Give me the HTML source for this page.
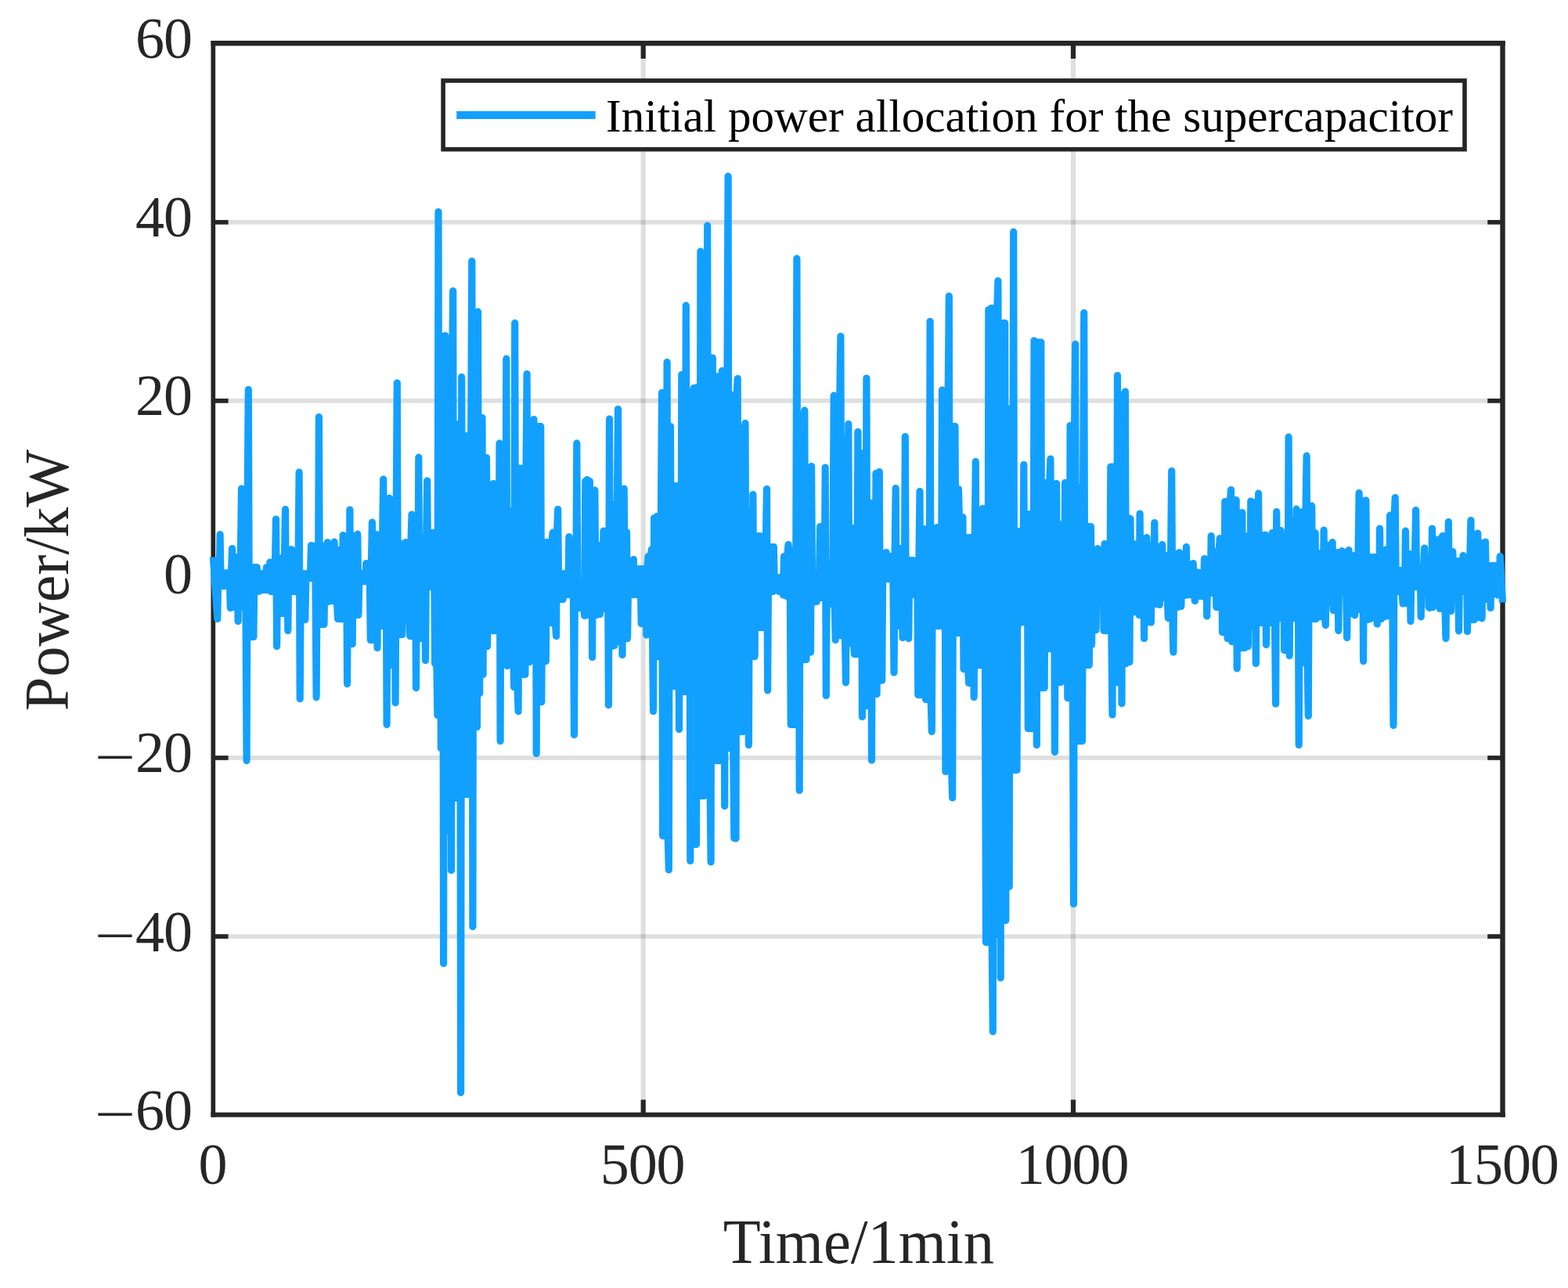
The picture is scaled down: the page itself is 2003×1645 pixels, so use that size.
<!DOCTYPE html>
<html lang="en"><head><meta charset="utf-8"><title>Initial power allocation for the supercapacitor</title>
<style>html,body{margin:0;padding:0;background:#fff;}body{width:2003px;height:1645px;overflow:hidden;}svg{display:block;}text{font-family:"Liberation Serif","DejaVu Serif",serif;}</style></head><body>
<svg width="2003" height="1645" viewBox="0 0 2003 1645">
<rect x="0" y="0" width="2003" height="1645" fill="#ffffff"/>
<g stroke="#262626" stroke-opacity="0.15" fill="none">
<line x1="821.7" y1="55.6" x2="821.7" y2="1423.8" stroke-width="6.2"/>
<line x1="1371.0" y1="55.6" x2="1371.0" y2="1423.8" stroke-width="6.2"/>
<line x1="272.3" y1="283.8" x2="1919.5" y2="283.8" stroke-width="5.7"/>
<line x1="272.3" y1="511.9" x2="1919.5" y2="511.9" stroke-width="5.7"/>
<line x1="272.3" y1="739.9" x2="1919.5" y2="739.9" stroke-width="5.7"/>
<line x1="272.3" y1="967.9" x2="1919.5" y2="967.9" stroke-width="5.7"/>
<line x1="272.3" y1="1196.0" x2="1919.5" y2="1196.0" stroke-width="5.7"/>
</g>
<g stroke="#262626" fill="none">
<line x1="821.7" y1="1423.8" x2="821.7" y2="1404.5" stroke-width="6.2"/>
<line x1="821.7" y1="55.6" x2="821.7" y2="74.9" stroke-width="6.2"/>
<line x1="1371.0" y1="1423.8" x2="1371.0" y2="1404.5" stroke-width="6.2"/>
<line x1="1371.0" y1="55.6" x2="1371.0" y2="74.9" stroke-width="6.2"/>
<line x1="272.3" y1="283.8" x2="291.6" y2="283.8" stroke-width="5.7"/>
<line x1="1919.5" y1="283.8" x2="1900.2" y2="283.8" stroke-width="5.7"/>
<line x1="272.3" y1="511.9" x2="291.6" y2="511.9" stroke-width="5.7"/>
<line x1="1919.5" y1="511.9" x2="1900.2" y2="511.9" stroke-width="5.7"/>
<line x1="272.3" y1="739.9" x2="291.6" y2="739.9" stroke-width="5.7"/>
<line x1="1919.5" y1="739.9" x2="1900.2" y2="739.9" stroke-width="5.7"/>
<line x1="272.3" y1="967.9" x2="291.6" y2="967.9" stroke-width="5.7"/>
<line x1="1919.5" y1="967.9" x2="1900.2" y2="967.9" stroke-width="5.7"/>
<line x1="272.3" y1="1196.0" x2="291.6" y2="1196.0" stroke-width="5.7"/>
<line x1="1919.5" y1="1196.0" x2="1900.2" y2="1196.0" stroke-width="5.7"/>
<line x1="272.3" y1="52.300000000000004" x2="272.3" y2="1426.8" stroke-width="5.7"/>
<line x1="1919.5" y1="52.300000000000004" x2="1919.5" y2="1426.8" stroke-width="6.4"/>
<line x1="269.45" y1="55.35" x2="1922.7" y2="55.35" stroke-width="6.5"/>
<line x1="269.45" y1="1423.87" x2="1922.7" y2="1423.87" stroke-width="6.0"/>
</g>
<polyline points="272.3,711.5 273.4,727.0 274.5,743.0 275.6,759.0 276.7,775.0 277.8,790.4 278.9,718.6 280.0,748.4 281.1,682.6 282.2,748.4 283.3,732.6 284.4,748.4 285.5,732.6 286.6,748.4 287.7,732.6 288.8,731.6 289.9,748.4 291.0,734.6 292.1,748.4 293.2,734.6 294.3,776.4 295.4,734.6 296.5,700.6 297.6,775.4 298.7,775.4 299.8,711.6 300.9,775.4 301.9,711.6 303.1,711.6 304.1,793.4 305.2,711.6 306.3,775.4 307.4,711.6 308.5,624.0 309.6,775.4 310.7,635.6 311.8,775.4 312.9,635.6 314.0,775.4 315.1,971.4 316.2,635.6 317.3,497.6 318.4,813.4 319.5,724.6 320.6,813.4 321.7,724.6 322.8,724.6 323.9,813.4 325.0,724.6 326.1,755.4 327.2,724.6 328.3,724.6 329.4,755.4 330.5,755.4 331.6,732.6 332.7,753.4 333.8,732.6 334.9,732.6 336.0,753.4 337.1,753.4 338.2,732.6 339.3,753.4 340.4,724.6 341.5,753.4 342.6,724.6 343.7,753.4 344.8,718.2 345.9,755.4 347.0,722.6 348.1,755.4 349.2,722.6 350.3,755.4 351.4,722.6 352.5,663.0 353.6,825.4 354.7,712.6 355.8,783.4 356.9,712.6 357.9,783.4 359.1,712.6 360.1,783.4 361.2,712.6 362.4,783.4 363.4,712.6 364.5,650.6 365.6,783.4 366.7,702.6 367.8,805.4 368.9,702.6 370.0,755.4 371.1,702.6 372.2,701.6 373.3,755.4 374.4,718.6 375.5,755.4 376.6,718.6 377.7,755.4 378.8,718.6 379.9,755.4 381.0,718.6 382.1,603.2 383.2,892.4 384.3,732.6 385.4,791.4 386.5,791.4 387.6,732.6 388.7,791.4 389.8,791.4 390.9,732.6 392.0,738.4 393.1,732.6 394.2,738.4 395.3,732.6 396.4,738.4 397.5,696.6 398.6,738.4 399.7,697.6 400.8,738.4 401.9,697.6 403.0,738.4 404.1,890.4 405.2,697.6 406.3,797.4 407.4,532.6 408.5,797.4 409.6,797.4 410.7,697.6 411.8,797.4 412.9,697.6 414.0,797.4 415.1,697.6 416.2,768.4 417.2,697.6 418.4,692.6 419.4,768.4 420.6,702.6 421.6,767.4 422.7,702.6 423.8,767.4 424.9,702.6 426.0,767.4 427.1,692.2 428.2,767.4 429.3,702.6 430.4,767.4 431.5,790.4 432.6,702.6 433.7,790.4 434.8,702.6 435.9,790.4 437.0,790.4 438.1,683.6 439.2,790.4 440.3,684.6 441.4,790.4 442.5,684.6 443.6,873.4 444.7,684.6 445.8,822.4 446.9,651.0 448.0,822.4 449.1,684.6 450.2,822.4 451.3,684.6 452.4,684.6 453.5,785.4 454.6,684.6 455.7,785.4 456.8,682.2 457.9,785.4 459.0,732.6 460.1,742.4 461.2,732.6 462.3,732.6 463.4,742.4 464.5,742.4 465.6,732.6 466.7,742.4 467.8,719.6 468.9,742.4 470.0,722.6 471.1,742.4 472.2,722.6 473.3,817.4 474.4,722.6 475.4,667.0 476.6,817.4 477.6,817.4 478.8,682.6 479.9,817.4 480.9,682.6 482.0,827.4 483.1,684.6 484.2,799.4 485.3,684.6 486.4,799.4 487.5,799.4 488.6,684.6 489.7,612.0 490.8,799.4 491.9,638.6 493.0,638.6 494.1,925.4 495.2,638.6 496.3,849.4 497.4,636.2 498.5,849.4 499.6,849.4 500.7,656.6 501.8,656.6 502.9,849.4 504.0,656.6 505.1,897.4 506.2,656.6 507.3,489.0 508.4,810.4 509.5,810.4 510.6,694.6 511.7,810.4 512.8,694.6 513.9,810.4 515.0,694.6 516.1,769.4 517.2,694.6 518.3,692.6 519.4,769.4 520.5,694.6 521.6,694.6 522.7,769.4 523.8,812.4 524.9,694.6 526.0,657.0 527.1,812.4 528.2,812.4 529.3,664.6 530.4,664.6 531.5,878.4 532.6,664.6 533.7,815.4 534.8,584.2 535.9,815.4 537.0,686.6 538.0,815.4 539.1,686.6 540.2,686.6 541.3,815.4 542.4,686.6 543.5,843.4 544.6,686.6 545.7,614.0 546.8,749.4 547.9,680.6 549.0,749.4 550.1,680.6 551.2,749.4 552.3,680.6 553.4,749.4 554.5,680.6 555.6,847.4 556.7,680.6 557.8,847.4 558.9,913.4 560.0,270.6 561.1,913.4 562.2,429.6 563.3,955.4 564.4,429.6 565.5,429.6 566.6,1230.4 567.7,429.6 568.8,428.6 569.9,1061.4 571.0,1061.4 572.1,472.6 573.2,472.6 574.3,1061.4 575.4,472.6 576.5,1111.4 577.6,472.6 578.7,371.6 579.8,1019.4 580.9,541.6 582.0,1019.4 583.1,541.6 584.2,1019.4 585.3,541.6 586.4,1019.4 587.5,541.6 588.6,1395.4 589.7,481.6 590.8,1014.4 591.9,556.6 593.0,1014.4 594.0,556.6 595.1,1014.4 596.2,1014.4 597.4,556.6 598.5,1014.4 599.5,556.6 600.6,1014.4 601.7,556.6 602.8,333.6 603.9,1183.4 605.0,400.6 606.1,928.4 607.2,400.6 608.3,928.4 609.4,928.4 610.5,398.2 611.6,885.4 612.7,885.4 613.8,533.6 614.9,861.4 616.0,533.6 617.1,861.4 618.2,584.6 619.3,825.4 620.4,584.6 621.5,584.6 622.6,825.4 623.7,620.6 624.8,805.4 625.9,620.6 627.0,805.4 628.1,620.6 629.2,805.4 630.3,617.6 631.4,805.4 632.5,620.6 633.6,620.6 634.7,805.4 635.8,620.6 636.9,805.4 638.0,566.2 639.1,946.4 640.2,567.6 641.3,827.4 642.4,567.6 643.5,827.4 644.6,567.6 645.7,827.4 646.8,458.2 647.9,850.4 649.0,652.6 650.1,819.4 651.2,652.6 652.2,819.4 653.4,819.4 654.5,652.6 655.5,819.4 656.6,877.4 657.7,412.6 658.8,877.4 659.9,598.2 661.0,877.4 662.1,908.4 663.2,598.2 664.3,861.4 665.4,598.2 666.5,861.4 667.6,598.2 668.7,861.4 669.8,598.2 670.9,861.4 672.0,598.2 673.1,477.6 674.2,845.4 675.3,592.6 676.4,845.4 677.5,592.6 678.6,835.4 679.7,835.4 680.8,592.6 681.9,535.6 683.0,835.4 684.1,544.6 685.2,962.4 686.3,544.6 687.4,544.6 688.5,896.4 689.6,544.6 690.7,544.6 691.8,896.4 692.9,692.6 694.0,844.4 695.1,692.6 696.2,844.4 697.3,844.4 698.4,692.6 699.5,692.6 700.6,795.4 701.7,692.6 702.8,795.4 703.9,795.4 705.0,692.6 706.1,680.2 707.2,795.4 708.3,680.6 709.4,795.4 710.5,812.4 711.5,680.6 712.6,650.6 713.8,765.4 714.9,732.6 716.0,765.4 717.0,732.6 718.1,765.4 719.2,765.4 720.3,732.6 721.4,759.4 722.5,732.6 723.6,759.4 724.7,732.6 725.8,759.4 726.9,685.6 728.0,759.4 729.1,692.6 730.2,759.4 731.3,692.6 732.4,759.4 733.5,938.4 734.6,692.6 735.7,776.4 736.8,566.2 737.9,776.4 739.0,776.4 740.1,746.6 741.2,776.4 742.3,746.6 743.4,776.4 744.5,746.6 745.6,776.4 746.7,786.4 747.8,614.6 748.9,785.4 750.0,612.6 751.1,785.4 752.2,614.6 753.3,614.6 754.4,785.4 755.5,626.6 756.6,839.4 757.7,626.6 758.8,785.4 759.9,626.2 761.0,785.4 762.1,785.4 763.2,696.6 764.3,784.4 765.4,696.6 766.5,784.4 767.6,696.6 768.7,777.4 769.8,777.4 770.9,678.2 772.0,777.4 773.0,679.6 774.1,679.6 775.2,777.4 776.3,679.6 777.4,900.4 778.5,535.0 779.6,825.4 780.7,644.6 781.8,825.4 782.9,644.6 784.0,644.6 785.1,824.4 786.2,644.6 787.3,819.4 788.4,644.6 789.5,522.6 790.6,819.4 791.7,624.6 792.8,819.4 793.9,624.6 795.0,836.4 796.1,624.6 797.2,624.2 798.3,815.4 799.4,815.4 800.5,679.6 801.6,815.4 802.7,722.6 803.8,759.4 804.9,722.6 806.0,759.4 807.1,722.6 808.2,759.4 809.3,714.6 810.4,759.4 811.5,759.4 812.6,726.6 813.7,759.4 814.8,759.4 815.9,726.6 817.0,759.4 818.1,726.6 819.2,796.4 820.3,726.6 821.4,795.4 822.5,726.6 823.6,795.4 824.7,726.6 825.8,811.0 826.9,726.6 828.0,710.6 829.0,809.4 830.1,809.4 831.2,710.6 832.4,701.6 833.5,809.4 834.5,908.4 835.6,661.6 836.7,838.4 837.8,661.6 838.9,659.6 840.0,838.4 841.1,659.6 842.2,658.6 843.3,838.4 844.4,658.6 845.5,501.6 846.6,1067.4 847.7,501.6 848.8,1067.4 849.9,501.6 851.0,1067.4 852.1,462.6 853.2,1067.4 854.3,1111.0 855.4,544.6 856.5,544.6 857.6,876.4 858.7,620.6 859.8,876.4 860.9,876.4 862.0,620.6 863.1,876.4 864.2,620.6 865.3,876.4 866.4,620.6 867.5,931.4 868.6,620.6 869.7,883.4 870.8,478.6 871.9,883.4 873.0,482.6 874.1,482.6 875.2,883.4 876.3,390.2 877.4,883.4 878.5,501.6 879.6,883.4 880.7,501.6 881.8,1099.4 882.9,501.6 884.0,1078.4 885.1,501.6 886.2,495.6 887.2,1078.4 888.4,495.6 889.5,1078.4 890.5,494.6 891.6,1016.4 892.8,494.6 893.8,1016.4 894.9,321.0 896.0,1016.4 897.1,328.6 898.2,328.6 899.3,1016.4 900.4,328.6 901.5,991.4 902.6,991.4 903.7,288.2 904.8,991.4 905.9,457.0 907.0,991.4 908.1,1101.0 909.2,457.0 910.3,457.0 911.4,971.4 912.5,971.4 913.6,480.6 914.7,480.6 915.8,971.4 916.9,971.4 918.0,480.6 919.1,971.4 920.2,480.6 921.3,971.4 922.4,473.6 923.5,971.4 924.6,474.6 925.7,1029.4 926.8,474.6 927.9,955.4 929.0,474.6 930.1,225.2 931.2,955.4 932.3,955.4 933.4,504.6 934.5,951.4 935.6,504.6 936.7,951.4 937.8,1070.4 938.9,504.6 940.0,1071.0 941.1,504.6 942.2,483.6 943.3,934.4 944.4,546.6 945.5,934.4 946.5,546.6 947.6,546.6 948.8,934.4 949.9,546.6 951.0,871.4 952.0,540.6 953.1,871.4 954.2,651.6 955.3,871.4 956.4,951.4 957.5,651.6 958.6,838.4 959.7,651.6 960.8,838.4 961.9,631.6 963.0,838.4 964.1,838.4 965.2,684.6 966.3,801.4 967.4,801.4 968.5,684.6 969.6,801.4 970.7,684.6 971.8,801.4 972.9,801.4 974.0,685.6 975.1,801.4 976.2,685.6 977.3,801.4 978.4,685.6 979.5,624.6 980.6,881.8 981.7,698.6 982.8,755.4 983.9,698.6 985.0,755.4 986.1,698.6 987.2,755.4 988.3,698.6 989.4,752.4 990.5,737.6 991.6,752.4 992.7,737.6 993.8,752.4 994.9,755.4 996.0,737.6 997.1,737.6 998.2,755.4 999.3,737.6 1000.4,759.8 1001.5,710.6 1002.6,759.8 1003.7,710.6 1004.8,761.4 1005.9,710.6 1007.0,695.6 1008.0,761.4 1009.1,702.6 1010.2,925.4 1011.3,702.6 1012.4,925.4 1013.5,702.6 1014.6,925.4 1015.7,925.4 1016.8,702.6 1017.9,330.2 1019.0,925.4 1020.1,530.6 1021.2,1009.4 1022.3,530.6 1023.4,530.6 1024.5,842.4 1025.6,530.6 1026.7,842.4 1027.8,524.2 1028.9,842.4 1030.0,842.4 1031.1,596.6 1032.2,596.6 1033.3,833.0 1034.4,596.6 1035.5,833.0 1036.6,595.6 1037.7,769.4 1038.8,769.4 1039.9,740.6 1041.0,768.4 1042.1,740.6 1043.2,768.4 1044.3,740.6 1045.4,763.4 1046.5,740.6 1047.6,672.6 1048.7,763.4 1049.8,672.6 1050.9,763.4 1052.0,672.6 1053.1,763.4 1054.2,597.0 1055.3,888.4 1056.4,720.6 1057.5,771.4 1058.6,720.6 1059.7,720.6 1060.8,771.4 1061.9,720.6 1063.0,771.4 1064.0,720.6 1065.2,505.2 1066.2,771.4 1067.3,817.4 1068.5,506.6 1069.5,506.6 1070.6,811.4 1071.7,811.4 1072.8,506.6 1073.9,429.6 1075.0,811.4 1076.1,560.6 1077.2,811.4 1078.3,560.6 1079.4,811.4 1080.5,871.8 1081.6,560.6 1082.7,821.4 1083.8,541.6 1084.9,821.4 1086.0,674.6 1087.1,821.4 1088.2,674.6 1089.3,674.6 1090.4,821.4 1091.5,835.4 1092.6,674.6 1093.7,835.4 1094.8,835.4 1095.9,551.6 1097.0,835.4 1098.1,578.6 1099.2,835.4 1100.3,578.6 1101.4,915.4 1102.5,578.6 1103.6,901.4 1104.7,578.6 1105.8,901.4 1106.9,483.0 1108.0,901.4 1109.1,642.6 1110.2,901.4 1111.3,642.6 1112.4,642.6 1113.5,971.0 1114.6,642.6 1115.7,642.6 1116.8,886.4 1117.9,886.4 1119.0,604.6 1120.1,886.4 1121.2,604.6 1122.3,869.0 1123.3,602.6 1124.5,869.0 1125.5,706.6 1126.7,869.0 1127.8,706.6 1128.8,739.4 1129.9,706.6 1131.0,739.4 1132.1,705.6 1133.2,739.4 1134.3,710.6 1135.4,739.4 1136.5,710.6 1137.6,710.6 1138.7,739.4 1139.8,710.6 1140.9,739.4 1142.0,859.0 1143.1,710.6 1144.2,623.6 1145.3,799.4 1146.4,700.6 1147.5,799.4 1148.6,700.6 1149.7,700.6 1150.8,799.4 1151.9,700.6 1153.0,814.4 1154.1,700.6 1155.2,807.4 1156.3,557.6 1157.4,807.4 1158.5,715.6 1159.6,807.4 1160.7,815.4 1161.8,715.6 1162.9,715.6 1164.0,759.4 1165.1,759.4 1166.2,715.6 1167.3,759.4 1168.4,759.4 1169.5,716.6 1170.6,759.4 1171.7,716.6 1172.8,887.4 1173.9,716.6 1175.0,627.6 1176.1,887.4 1177.2,675.6 1178.3,887.4 1179.4,675.6 1180.5,675.6 1181.5,887.4 1182.7,893.4 1183.8,675.6 1184.8,893.4 1186.0,675.6 1187.0,893.4 1188.1,410.6 1189.2,893.4 1190.3,934.4 1191.4,674.6 1192.5,799.4 1193.6,674.6 1194.7,799.4 1195.8,674.6 1196.9,673.6 1198.0,799.4 1199.1,673.6 1200.2,799.4 1201.3,673.6 1202.4,799.4 1203.5,498.2 1204.6,799.4 1205.7,499.6 1206.8,499.6 1207.9,985.4 1209.0,499.6 1210.1,983.4 1211.2,499.6 1212.3,378.2 1213.4,983.4 1214.5,544.6 1215.6,983.4 1216.7,1019.0 1217.8,544.6 1218.9,808.4 1220.0,544.6 1221.1,808.4 1222.2,624.6 1223.3,808.4 1224.4,624.6 1225.5,664.6 1226.6,808.4 1227.7,664.6 1228.8,808.4 1229.9,660.6 1231.0,854.4 1232.1,686.6 1233.2,851.4 1234.3,686.6 1235.4,686.6 1236.5,851.4 1237.6,872.4 1238.7,686.6 1239.8,686.6 1240.8,688.6 1242.0,872.4 1243.0,688.6 1244.2,890.4 1245.2,688.6 1246.3,589.6 1247.4,849.4 1248.5,680.6 1249.6,849.4 1250.7,680.6 1251.8,849.4 1252.9,680.6 1254.0,849.4 1255.1,649.6 1256.2,849.4 1257.3,649.6 1258.4,849.4 1259.5,1203.4 1260.6,649.6 1261.7,1203.4 1262.8,395.6 1263.9,1203.4 1265.0,395.6 1266.1,393.6 1267.2,1203.4 1268.3,1317.4 1269.4,393.6 1270.5,1193.4 1271.6,393.6 1272.7,1193.4 1273.8,393.6 1274.9,358.6 1276.0,1193.4 1277.1,412.6 1278.2,1249.0 1279.3,412.6 1280.4,1175.4 1281.5,412.6 1282.6,1175.4 1283.7,412.6 1284.8,1175.4 1285.9,521.6 1287.0,1132.4 1288.1,521.6 1289.2,1132.4 1290.3,521.6 1291.4,983.4 1292.5,521.6 1293.6,983.4 1294.7,296.2 1295.8,983.4 1296.9,678.6 1298.0,983.4 1299.0,983.4 1300.2,678.6 1301.2,678.6 1302.3,795.4 1303.5,795.4 1304.5,678.6 1305.6,794.4 1306.7,794.4 1307.8,593.6 1308.9,794.4 1310.0,656.6 1311.1,794.4 1312.2,656.6 1313.3,930.4 1314.4,656.6 1315.5,930.4 1316.6,656.6 1317.7,930.4 1318.8,656.6 1319.9,930.4 1321.0,435.0 1322.1,930.4 1323.2,437.0 1324.3,951.4 1325.4,437.0 1326.5,878.4 1327.6,437.0 1328.7,878.4 1329.8,437.0 1330.9,878.4 1332.0,616.6 1333.1,878.4 1334.2,878.4 1335.3,616.6 1336.4,828.4 1337.5,828.4 1338.6,616.6 1339.7,828.4 1340.8,616.6 1341.9,586.2 1343.0,828.4 1344.1,618.6 1345.2,828.4 1346.3,618.6 1347.4,960.4 1348.5,618.6 1349.6,617.6 1350.7,871.4 1351.8,871.4 1352.9,669.6 1354.0,669.6 1355.1,871.4 1356.2,670.6 1357.3,867.4 1358.3,670.6 1359.5,867.4 1360.5,616.6 1361.7,867.4 1362.8,616.6 1363.8,891.4 1364.9,616.6 1366.0,891.4 1367.1,543.6 1368.2,891.4 1369.3,543.6 1370.4,891.4 1371.5,1154.4 1372.6,543.6 1373.7,439.6 1374.8,946.4 1375.9,622.6 1377.0,946.4 1378.1,622.6 1379.2,622.6 1380.3,946.4 1381.4,622.6 1382.5,946.4 1383.6,622.6 1384.7,399.6 1385.8,849.4 1386.9,672.6 1388.0,849.4 1389.1,672.6 1390.2,672.6 1391.3,849.4 1392.4,672.6 1393.5,672.6 1394.6,823.4 1395.7,702.6 1396.8,805.4 1397.9,702.6 1399.0,702.6 1400.1,804.4 1401.2,702.6 1402.3,700.6 1403.4,758.4 1404.5,702.6 1405.6,758.4 1406.7,702.6 1407.8,758.4 1408.9,702.6 1410.0,805.4 1411.1,694.6 1412.2,805.4 1413.3,805.4 1414.4,696.6 1415.5,805.4 1416.5,696.6 1417.7,805.4 1418.8,596.2 1419.8,805.4 1421.0,913.0 1422.0,596.2 1423.1,871.4 1424.2,596.2 1425.3,871.4 1426.4,871.4 1427.5,479.6 1428.6,871.4 1429.7,504.6 1430.8,871.4 1431.9,504.6 1433.0,898.4 1434.1,504.6 1435.2,847.4 1436.3,504.6 1437.4,500.2 1438.5,847.4 1439.6,661.6 1440.7,845.4 1441.8,661.6 1442.9,845.4 1444.0,662.6 1445.1,783.4 1446.2,694.6 1447.3,781.4 1448.4,694.6 1449.5,781.4 1450.6,708.6 1451.7,781.8 1452.8,708.6 1453.9,781.8 1455.0,785.4 1456.1,656.0 1457.2,785.4 1458.3,690.6 1459.4,785.4 1460.5,690.6 1461.6,815.4 1462.7,690.6 1463.8,794.4 1464.9,686.6 1466.0,794.4 1467.1,696.6 1468.2,794.4 1469.3,696.6 1470.4,795.0 1471.5,696.6 1472.6,771.4 1473.7,771.4 1474.8,667.6 1475.8,771.4 1477.0,698.6 1478.0,771.4 1479.2,698.6 1480.2,698.6 1481.3,772.4 1482.4,698.6 1483.5,763.4 1484.6,695.6 1485.7,763.4 1486.8,709.6 1487.9,763.4 1489.0,709.6 1490.1,709.6 1491.2,763.4 1492.3,789.4 1493.4,709.6 1494.5,789.4 1495.6,709.6 1496.7,601.6 1497.8,789.4 1498.9,833.0 1500.0,707.6 1501.1,775.4 1502.2,707.6 1503.3,775.4 1504.4,775.4 1505.5,707.6 1506.6,705.6 1507.7,774.4 1508.8,774.4 1509.9,707.6 1511.0,707.6 1512.1,760.4 1513.2,707.6 1514.3,760.4 1515.4,698.6 1516.5,759.4 1517.6,720.6 1518.7,759.4 1519.8,720.6 1520.9,759.4 1522.0,720.6 1523.1,759.4 1524.2,719.6 1525.3,759.4 1526.4,767.4 1527.5,730.6 1528.6,730.6 1529.7,761.4 1530.8,731.6 1531.9,731.6 1533.0,761.4 1534.1,731.6 1535.2,761.4 1536.2,731.6 1537.3,761.4 1538.5,713.6 1539.5,761.4 1540.6,714.6 1541.7,787.0 1542.8,714.6 1543.9,757.4 1545.0,714.6 1546.1,757.4 1547.2,684.6 1548.3,757.4 1549.4,704.6 1550.5,757.4 1551.6,704.6 1552.7,704.6 1553.8,775.4 1554.9,704.6 1556.0,775.4 1557.1,704.6 1558.2,687.6 1559.3,775.4 1560.4,687.6 1561.5,807.4 1562.6,687.6 1563.7,807.4 1564.8,640.6 1565.9,807.4 1567.0,640.6 1568.1,815.4 1569.2,640.6 1570.3,815.4 1571.4,640.6 1572.5,625.6 1573.6,819.4 1574.7,638.6 1575.8,819.4 1576.9,638.6 1578.0,819.4 1579.1,638.6 1580.2,853.8 1581.3,655.6 1582.4,655.6 1583.5,827.4 1584.6,827.4 1585.7,655.6 1586.8,654.6 1587.9,827.4 1589.0,684.6 1590.1,827.4 1591.2,684.6 1592.3,825.4 1593.3,684.6 1594.5,825.4 1595.5,684.6 1596.7,799.4 1597.8,640.0 1598.8,799.4 1599.9,641.6 1601.0,799.4 1602.1,641.6 1603.2,641.6 1604.3,847.4 1605.4,641.6 1606.5,795.4 1607.6,630.2 1608.7,795.4 1609.8,795.4 1610.9,795.4 1612.0,683.6 1613.1,795.4 1614.2,683.6 1615.3,795.4 1616.4,683.0 1617.5,823.4 1618.6,695.6 1619.7,795.4 1620.8,695.6 1621.9,795.4 1623.0,795.4 1624.1,695.6 1625.2,680.6 1626.3,795.4 1627.4,680.6 1628.5,795.4 1629.6,899.0 1630.7,653.6 1631.8,789.4 1632.9,677.6 1634.0,789.4 1635.1,789.4 1636.2,677.6 1637.3,789.4 1638.4,684.6 1639.5,684.6 1640.6,830.4 1641.7,684.6 1642.8,830.4 1643.9,684.6 1645.0,830.4 1646.1,558.2 1647.2,837.4 1648.3,664.6 1649.4,789.4 1650.5,664.6 1651.6,789.4 1652.7,789.4 1653.8,664.6 1654.8,789.4 1656.0,650.2 1657.0,789.4 1658.1,660.6 1659.2,951.4 1660.3,660.6 1661.4,846.4 1662.5,660.6 1663.6,653.6 1664.7,846.4 1665.8,653.6 1666.9,846.4 1668.0,653.6 1669.1,582.2 1670.2,846.4 1671.3,914.4 1672.4,646.2 1673.5,790.4 1674.6,646.2 1675.7,646.2 1676.8,790.4 1677.9,680.6 1679.0,790.4 1680.1,680.6 1681.2,790.4 1682.3,706.6 1683.4,787.4 1684.5,706.6 1685.6,787.4 1686.7,706.6 1687.8,787.4 1688.9,706.6 1690.0,787.4 1691.1,677.0 1692.2,787.4 1693.3,798.4 1694.4,696.6 1695.5,769.4 1696.6,696.6 1697.7,696.6 1698.8,769.4 1699.9,696.6 1701.0,769.4 1702.1,692.6 1703.2,779.4 1704.3,705.6 1705.4,779.4 1706.5,705.6 1707.6,779.4 1708.7,705.6 1709.8,805.4 1710.8,705.6 1712.0,756.4 1713.0,705.6 1714.2,703.6 1715.2,756.4 1716.3,705.6 1717.4,756.4 1718.5,705.6 1719.6,756.4 1720.7,814.4 1721.8,705.6 1722.9,702.6 1724.0,783.4 1725.1,709.6 1726.2,783.4 1727.3,709.6 1728.4,783.4 1729.5,709.6 1730.6,785.8 1731.7,709.6 1732.8,778.4 1733.9,778.4 1735.0,709.6 1736.1,629.6 1737.2,778.4 1738.3,639.6 1739.4,778.4 1740.5,639.6 1741.6,844.4 1742.7,639.6 1743.8,791.4 1744.9,639.0 1746.0,791.4 1747.1,791.4 1748.2,711.6 1749.3,790.4 1750.4,790.4 1751.5,711.6 1752.6,711.6 1753.7,767.4 1754.8,711.6 1755.9,767.4 1757.0,711.6 1758.1,767.4 1759.2,797.0 1760.3,711.6 1761.4,790.4 1762.5,675.0 1763.6,790.4 1764.7,790.4 1765.8,703.6 1766.9,787.4 1768.0,703.6 1769.1,787.4 1770.2,702.2 1771.2,786.4 1772.3,786.4 1773.5,702.2 1774.5,786.4 1775.6,658.2 1776.7,786.4 1777.8,658.2 1778.9,786.4 1780.0,926.4 1781.1,658.2 1782.2,635.6 1783.3,755.4 1784.4,728.6 1785.5,755.4 1786.6,755.4 1787.7,728.6 1788.8,755.4 1789.9,728.6 1791.0,755.4 1792.1,771.0 1793.2,728.6 1794.3,770.4 1795.4,678.2 1796.5,770.4 1797.6,707.6 1798.7,770.4 1799.8,707.6 1800.9,707.6 1802.0,793.4 1803.1,707.6 1804.2,749.4 1805.3,707.6 1806.4,749.4 1807.5,707.6 1808.6,651.6 1809.7,749.4 1810.8,724.6 1811.9,749.4 1813.0,724.6 1814.1,724.6 1815.2,787.8 1816.3,724.6 1817.4,751.4 1818.5,724.6 1819.6,700.2 1820.7,751.4 1821.8,711.6 1822.9,751.4 1824.0,711.6 1825.1,775.4 1826.2,776.4 1827.3,711.6 1828.3,775.4 1829.5,675.0 1830.5,775.4 1831.7,769.4 1832.8,689.6 1833.8,769.4 1834.9,689.6 1836.0,769.4 1837.1,689.6 1838.2,688.6 1839.3,777.4 1840.4,688.6 1841.5,776.4 1842.6,684.6 1843.7,776.4 1844.8,684.6 1845.9,776.4 1847.0,815.4 1848.1,684.6 1849.2,780.4 1850.3,666.6 1851.4,780.4 1852.5,704.6 1853.6,780.4 1854.7,704.6 1855.8,704.6 1856.9,754.4 1858.0,754.4 1859.1,716.6 1860.2,716.6 1861.3,754.4 1862.4,716.6 1863.5,805.8 1864.6,716.6 1865.7,755.4 1866.8,716.6 1867.9,755.4 1869.0,709.6 1870.1,755.4 1871.2,711.6 1872.3,755.4 1873.4,711.6 1874.5,806.4 1875.6,711.6 1876.7,791.4 1877.8,711.6 1878.9,664.6 1880.0,791.4 1881.1,682.6 1882.2,791.4 1883.3,791.4 1884.4,682.6 1885.5,788.4 1886.6,682.6 1887.7,681.0 1888.8,788.4 1889.8,693.6 1891.0,788.4 1892.0,693.6 1893.1,789.8 1894.2,693.6 1895.3,765.4 1896.4,693.6 1897.5,692.2 1898.6,765.4 1899.7,722.6 1900.8,765.4 1901.9,722.6 1903.0,722.6 1904.1,776.4 1905.2,722.6 1906.3,758.4 1907.4,722.6 1908.5,722.2 1909.6,758.4 1910.7,724.6 1911.8,724.6 1912.9,759.8 1914.0,724.6 1915.1,758.4 1916.2,710.6 1917.3,730.0 1918.4,750.0 1919.5,769.4" fill="none" stroke="#12a0ff" stroke-width="9.2" stroke-linejoin="round" stroke-linecap="butt"/>
<g fill="#262626" font-size="74px" letter-spacing="-1.1">
<text x="244.9" y="74.3" text-anchor="end">60</text>
<text x="244.9" y="302.3" text-anchor="end">40</text>
<text x="244.9" y="530.4" text-anchor="end">20</text>
<text x="244.9" y="758.4" text-anchor="end">0</text>
<text x="246.2" y="986.4" text-anchor="end"><tspan textLength="51" lengthAdjust="spacingAndGlyphs" dx="-1.3" dy="5.5">−</tspan><tspan dx="1.3" dy="-5.5">20</tspan></text>
<text x="246.2" y="1214.5" text-anchor="end"><tspan textLength="51" lengthAdjust="spacingAndGlyphs" dx="-1.3" dy="5.5">−</tspan><tspan dx="1.3" dy="-5.5">40</tspan></text>
<text x="246.2" y="1442.5" text-anchor="end"><tspan textLength="51" lengthAdjust="spacingAndGlyphs" dx="-1.3" dy="5.5">−</tspan><tspan dx="1.3" dy="-5.5">60</tspan></text>
<text x="271.5" y="1512" text-anchor="middle">0</text>
<text x="820.6" y="1512" text-anchor="middle">500</text>
<text x="1369.6" y="1512" text-anchor="middle">1000</text>
<text x="1918.9" y="1512" text-anchor="middle">1500</text>
</g>
<text x="1096.9" y="1613" font-size="80.5px" fill="#262626" text-anchor="middle" textLength="346.3" lengthAdjust="spacingAndGlyphs">Time/1min</text>
<text transform="translate(87,741) rotate(-90)" font-size="80.5px" fill="#262626" text-anchor="middle" textLength="334" lengthAdjust="spacingAndGlyphs">Power/kW</text>
<rect x="566.1" y="103" width="1304.9" height="87.7" fill="#ffffff" stroke="#262626" stroke-width="5.6"/>
<line x1="583.2" y1="147" x2="760.7" y2="147" stroke="#12a0ff" stroke-width="10.2"/>
<text x="774" y="167.8" font-size="60px" fill="#000000" textLength="1081.9" lengthAdjust="spacingAndGlyphs">Initial power allocation for the supercapacitor</text>
</svg></body></html>
